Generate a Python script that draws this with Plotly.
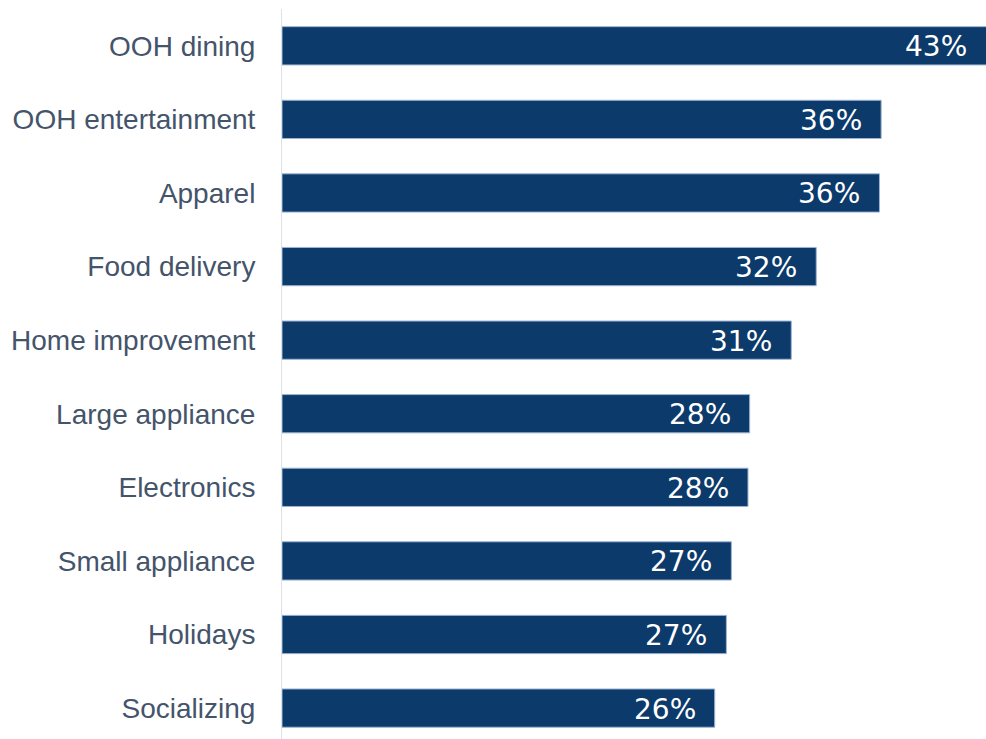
import plotly.graph_objects as go

# Share of respondents by spending category (%)
categories = [
    "OOH dining", "OOH entertainment", "Apparel", "Food delivery",
    "Home improvement", "Large appliance", "Electronics",
    "Small appliance", "Holidays", "Socializing",
]
shares = [42.6, 36.0, 35.9, 32.1, 30.6, 28.1, 28.0, 27.0, 26.7, 26.0]

X_MAX = 42.3

BAR = "#0B3A6B"
LABEL = "#44546A"

fig = go.Figure(
    go.Bar(
        x=shares,
        y=categories,
        orientation="h",
        width=0.52,
        marker=dict(color=BAR, line=dict(color="#9DB4D2", width=1)),
        hoverinfo="skip",
    )
)

# value labels sit inside the bar end (kept inside the visible range)
for cat, val in zip(categories, shares):
    fig.add_annotation(
        x=min(val, X_MAX), y=cat, text=f"{val:.0f}%", showarrow=False,
        xanchor="right", xshift=-17, yshift=-1,
        font=dict(family="DejaVu Sans", size=28, color="white"),
    )

fig.update_layout(
    width=986, height=739,
    margin=dict(l=282, r=0, t=9, b=0),
    paper_bgcolor="white", plot_bgcolor="white",
    showlegend=False,
    bargap=0.48,
)
fig.update_xaxes(range=[0, X_MAX], visible=False, showgrid=False)
fig.update_yaxes(
    categoryorder="array", categoryarray=categories,
    range=[9.42, -0.5],
    showgrid=False, zeroline=False,
    showline=True, linecolor="#DDE2E8", linewidth=1,
    ticks="", ticklabelstandoff=20,
    tickfont=dict(family="Liberation Sans, Arial", size=28, color=LABEL),
)

fig.write_html("out.html")
